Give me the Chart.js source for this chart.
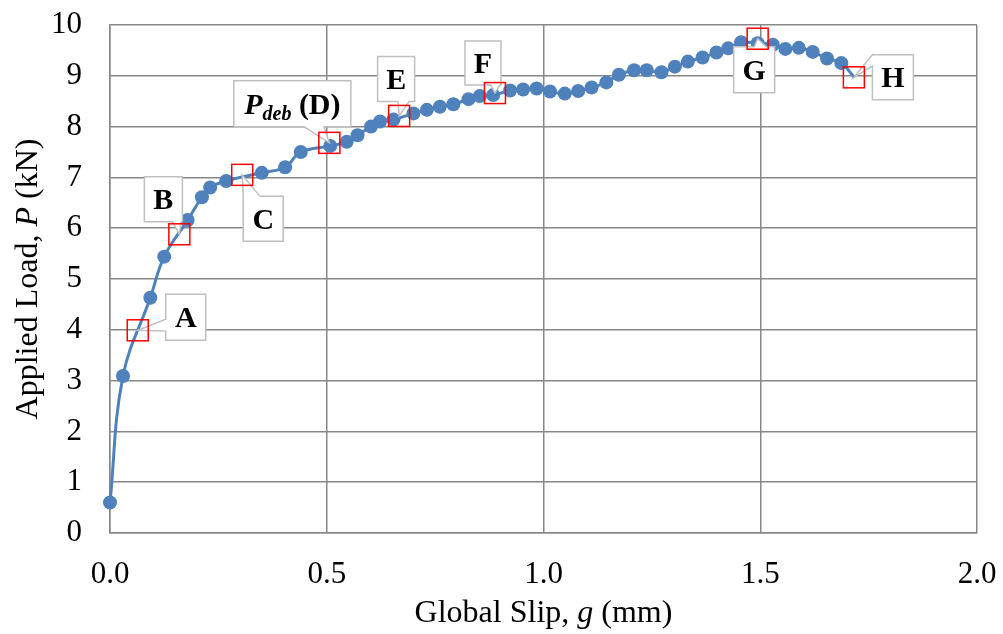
<!DOCTYPE html>
<html>
<head>
<meta charset="utf-8">
<script src="https://cdn.jsdelivr.net/npm/chart.js@4.4.0/dist/chart.umd.min.js"></script>
<style>
html, body { margin: 0; padding: 0; background: #fff; }
canvas { display: block; }
</style>
</head>
<body>
<canvas id="slipChart" width="1003" height="634"></canvas>
<script>
// global slip g (mm) and applied load P (kN)
const slip = [0.000, 0.030, 0.093, 0.125, 0.179, 0.212, 0.231, 0.268, 0.350, 0.404,
  0.440, 0.508, 0.546, 0.571, 0.602, 0.623, 0.654, 0.700, 0.731, 0.761,
  0.792, 0.827, 0.853, 0.884, 0.923, 0.953, 0.984, 1.015, 1.049, 1.080,
  1.111, 1.145, 1.174, 1.209, 1.238, 1.272, 1.303, 1.333, 1.367, 1.399,
  1.426, 1.456, 1.494, 1.529, 1.558, 1.589, 1.621, 1.654, 1.687, 1.718];
const load = [0.60, 3.09, 4.63, 5.44, 6.16, 6.61, 6.80, 6.93, 7.09, 7.20,
  7.50, 7.62, 7.70, 7.83, 8.00, 8.10, 8.14, 8.26, 8.33, 8.39,
  8.44, 8.54, 8.60, 8.62, 8.71, 8.73, 8.75, 8.69, 8.65, 8.70,
  8.77, 8.87, 9.02, 9.11, 9.11, 9.07, 9.18, 9.28, 9.36, 9.46,
  9.54, 9.66, 9.64, 9.61, 9.53, 9.55, 9.47, 9.34, 9.25, 8.96];

const xTickLabels = ["0.0", "0.5", "1.0", "1.5", "2.0"];
const yTickLabels = ["0", "1", "2", "3", "4", "5", "6", "7", "8", "9", "10"];

// marked stages on the curve
const stageNames = ["A", "B", "C", "D", "E", "F", "G", "H"];
const stageSlip = [0.064, 0.160, 0.305, 0.506, 0.667, 0.888, 1.494, 1.716];
const stageLoad = [3.99, 5.88, 7.05, 7.68, 8.21, 8.66, 9.73, 8.97];

// callout box placement (pixels, relative to the stage point)
const calloutStyle = {
  A: { dx: 48, dy: -13, w: 40, h: 46, side: "left", b0: 0.54, b1: 0.80 },
  B: { dx: -16, dy: -35, w: 38, h: 45, side: "bottom", b0: 0.74, b1: 0.97 },
  C: { dx: 21, dy: 44, w: 40, h: 45, side: "top", b0: 0.0, b1: 0.42 },
  D: { dx: -37, dy: -39, w: 117, h: 46, side: "bottom", b0: 0.60, b1: 0.77 },
  E: { dx: -3, dy: -37, w: 37, h: 45, side: "bottom", b0: 0.55, b1: 0.85 },
  F: { dx: -12, dy: -30, w: 36, h: 44, side: "bottom", b0: 0.72, b1: 0.97 },
  G: { dx: -3.5, dy: 31, w: 41, h: 46, side: "top", b0: 0.50, b1: 0.80 },
  H: { dx: 39, dy: 0, w: 41, h: 45, side: "left", b0: 0.0, b1: 0.25 }
};

const serif = "'Liberation Serif', 'Times New Roman', serif";
const blue = "#4F81BD";
const gridColor = "#878787";

function drawParts(ctx, parts, x, y) {
  // parts: [text, font, dy]
  let total = 0;
  parts.forEach(p => { ctx.font = p[1]; total += ctx.measureText(p[0]).width; });
  let cx = x - total / 2;
  ctx.textAlign = "left";
  ctx.textBaseline = "alphabetic";
  parts.forEach(p => {
    ctx.font = p[1];
    ctx.fillText(p[0], cx, y + (p[2] || 0));
    cx += ctx.measureText(p[0]).width;
  });
}

function calloutPath(ctx, L, T, w, h, s, tx, ty) {
  const R = L + w, B = T + h;
  ctx.beginPath();
  ctx.moveTo(L, T);
  if (s.side === "top") {
    ctx.lineTo(L + s.b0 * w, T); ctx.lineTo(tx, ty); ctx.lineTo(L + s.b1 * w, T);
  }
  ctx.lineTo(R, T);
  if (s.side === "right") {
    ctx.lineTo(R, T + s.b0 * h); ctx.lineTo(tx, ty); ctx.lineTo(R, T + s.b1 * h);
  }
  ctx.lineTo(R, B);
  if (s.side === "bottom") {
    ctx.lineTo(L + s.b1 * w, B); ctx.lineTo(tx, ty); ctx.lineTo(L + s.b0 * w, B);
  }
  ctx.lineTo(L, B);
  if (s.side === "left") {
    ctx.lineTo(L, T + s.b1 * h); ctx.lineTo(tx, ty); ctx.lineTo(L, T + s.b0 * h);
  }
  ctx.closePath();
}

const stagePlugin = {
  id: "stages",
  afterDatasetsDraw(chart) {
    const ctx = chart.ctx;
    const xs = chart.scales.x, ys = chart.scales.y;
    ctx.save();
    stageNames.forEach((name, i) => {
      const px = xs.getPixelForValue(stageSlip[i]);
      const py = ys.getPixelForValue(stageLoad[i]);
      const s = calloutStyle[name];
      const cx = px + s.dx, cy = py + s.dy;
      const L = cx - s.w / 2, T = cy - s.h / 2;
      calloutPath(ctx, L, T, s.w, s.h, s, px, py);
      ctx.fillStyle = "#fff";
      ctx.fill();
      ctx.lineWidth = 1.5;
      ctx.strokeStyle = "#BFBFBF";
      ctx.stroke();
      ctx.fillStyle = "#000";
      if (name === "D") {
        drawParts(ctx, [
          ["P", "italic bold 30px " + serif, 0],
          ["deb", "italic bold 20px " + serif, 6],
          [" (D)", "bold 30px " + serif, 0]
        ], cx, cy + 10);
      } else {
        drawParts(ctx, [[name, "bold 30px " + serif, 0]], cx, cy + 10);
      }
    });
    stageNames.forEach((name, i) => {
      const px = xs.getPixelForValue(stageSlip[i]);
      const py = ys.getPixelForValue(stageLoad[i]);
      ctx.lineWidth = 1.5;
      ctx.strokeStyle = "#FF0000";
      ctx.strokeRect(px - 10.5, py - 10.5, 21, 21);
    });
    ctx.restore();
  },
  afterDraw(chart) {
    const ctx = chart.ctx;
    const a = chart.chartArea;
    ctx.save();
    ctx.fillStyle = "#000";
    drawParts(ctx, [
      ["Global Slip, ", "32px " + serif],
      ["g", "italic 32px " + serif],
      [" (mm)", "32px " + serif]
    ], (a.left + a.right) / 2, 622);
    ctx.translate(37, (a.top + a.bottom) / 2);
    ctx.rotate(-Math.PI / 2);
    drawParts(ctx, [
      ["Applied Load, ", "32px " + serif],
      ["P", "italic 32px " + serif],
      [" (kN)", "32px " + serif]
    ], 0, 0);
    ctx.restore();
  }
};

const ctx = document.getElementById("slipChart").getContext("2d");
const slipChart = new Chart(ctx, {
  type: "line",
  data: {
    datasets: [
      {
        label: "P",
        data: slip.map((g, i) => ({ x: g, y: load[i] })),
        borderColor: blue,
        backgroundColor: blue,
        borderWidth: 3,
        pointRadius: slip.map((g, i) => (i === slip.length - 1 ? 0 : 7)),
        pointBorderWidth: 0,
        pointBackgroundColor: blue,
        tension: 0.4,
        clip: false,
      },
    ],
  },
  options: {
    responsive: false,
    animation: false,
    devicePixelRatio: 1,
    layout: { padding: { top: 25, right: 26, bottom: 0, left: 0 } },
    plugins: {
      legend: { display: false },
      tooltip: { enabled: false },
    },
    scales: {
      x: {
        type: "linear",
        min: 0,
        max: 2,
        afterFit(scale) {
          scale.height = 101;
          scale.paddingLeft = 0;
          scale.paddingRight = 0;
        },
        ticks: {
          stepSize: 0.5,
          padding: 23,
          color: "#000",
          font: { family: serif, size: 31 },
          callback: (v, i) => xTickLabels[i],
        },
        grid: { color: gridColor, lineWidth: 1.5, drawTicks: false },
        border: { color: gridColor, width: 1.5 },
      },
      y: {
        min: 0,
        max: 10,
        afterFit(scale) {
          scale.width = 110;
          scale.paddingTop = 0;
          scale.paddingBottom = 0;
        },
        ticks: {
          stepSize: 1,
          padding: 28,
          color: "#000",
          font: { family: serif, size: 31 },
          callback: (v, i) => yTickLabels[i],
        },
        grid: { color: gridColor, lineWidth: 1.5, drawTicks: false },
        border: { color: gridColor, width: 1.5 },
      },
    },
  },
  plugins: [stagePlugin],
});
</script>
</body>
</html>
